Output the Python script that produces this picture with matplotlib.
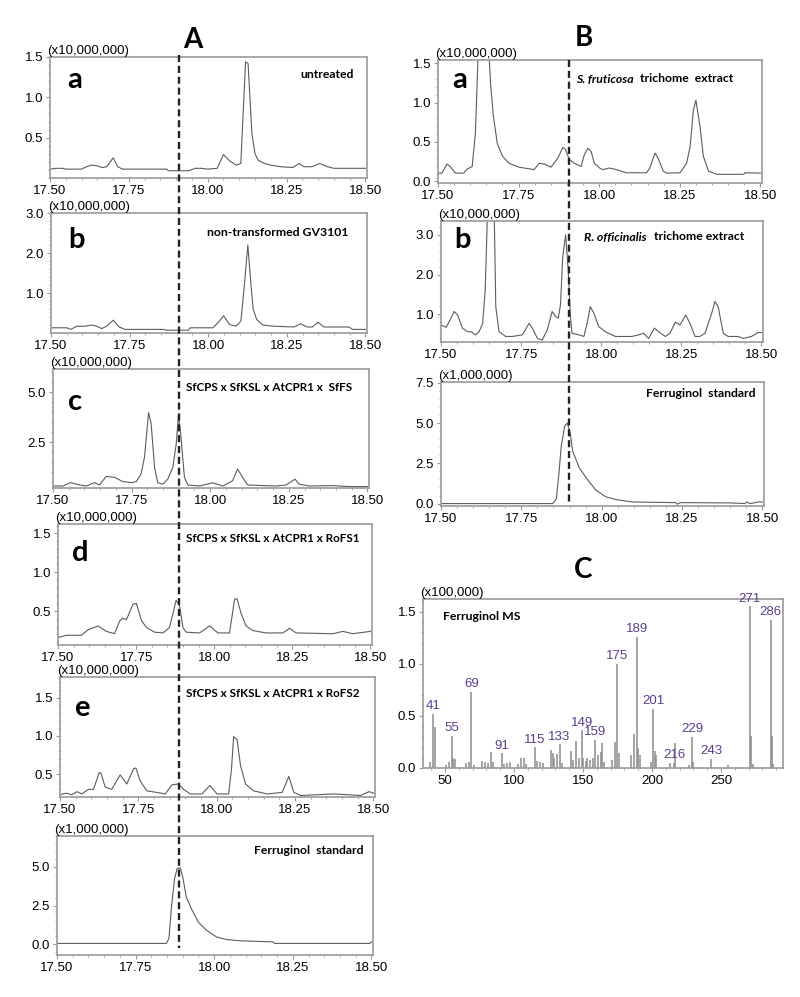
import matplotlib
matplotlib.use("Agg")
import matplotlib.pyplot as plt
from matplotlib.lines import Line2D
from matplotlib.ticker import AutoMinorLocator, FormatStrFormatter

plt.rcParams['font.family'] = ['Liberation Sans', 'DejaVu Sans']

# ---- chromatogram traces (retention time in min, intensity in axis units) ----
aa_t = [17.50, 17.52, 17.54, 17.55, 17.60, 17.61, 17.63, 17.65, 17.665, 17.68, 17.70, 17.715,
        17.73, 17.87, 17.875, 17.94, 17.96, 17.98, 18.00, 18.03, 18.05, 18.07, 18.09, 18.105,
        18.12, 18.128, 18.14, 18.15, 18.16, 18.18, 18.20, 18.23, 18.27, 18.29, 18.305, 18.33,
        18.355, 18.38, 18.40, 18.50]
aa_y = [0.11, 0.12, 0.12, 0.11, 0.11, 0.13, 0.16, 0.15, 0.13, 0.14, 0.25, 0.14,
        0.11, 0.11, 0.09, 0.09, 0.12, 0.12, 0.11, 0.12, 0.29, 0.21, 0.16, 0.18,
        1.44, 1.42, 0.55, 0.30, 0.22, 0.18, 0.16, 0.14, 0.13, 0.18, 0.14, 0.14,
        0.18, 0.14, 0.12, 0.12]

ab_t = [17.50, 17.55, 17.563, 17.582, 17.609, 17.63, 17.646, 17.661, 17.677, 17.698, 17.717,
        17.735, 17.857, 17.867, 17.936, 17.943, 18.015, 18.036, 18.049, 18.068, 18.089, 18.104,
        18.115, 18.126, 18.136, 18.143, 18.154, 18.173, 18.205, 18.273, 18.294, 18.315, 18.331,
        18.349, 18.368, 18.447, 18.46, 18.50]
ab_y = [0.13, 0.13, 0.09, 0.17, 0.17, 0.20, 0.17, 0.11, 0.17, 0.32, 0.15,
        0.09, 0.09, 0.07, 0.07, 0.13, 0.13, 0.30, 0.43, 0.21, 0.17, 0.30,
        1.20, 2.20, 1.20, 0.60, 0.34, 0.20, 0.17, 0.15, 0.23, 0.15, 0.15,
        0.27, 0.15, 0.15, 0.09, 0.09]

ac_t = [17.50, 17.532, 17.555, 17.585, 17.606, 17.632, 17.648, 17.669, 17.696, 17.722, 17.749,
        17.765, 17.78, 17.791, 17.804, 17.812, 17.823, 17.833, 17.849, 17.865, 17.881, 17.892,
        17.899, 17.907, 17.918, 17.929, 17.966, 18.008, 18.04, 18.071, 18.087, 18.103, 18.119,
        18.209, 18.241, 18.27, 18.283, 18.315, 18.389, 18.442, 18.50]
ac_y = [0.30, 0.30, 0.47, 0.35, 0.30, 0.47, 0.35, 0.78, 0.73, 0.52, 0.47,
        0.52, 0.90, 1.74, 3.97, 3.43, 1.23, 0.47, 0.39, 0.64, 1.23, 2.42,
        3.85, 2.75, 0.73, 0.35, 0.30, 0.46, 0.30, 0.56, 1.15, 0.73, 0.35,
        0.30, 0.35, 0.64, 0.39, 0.30, 0.32, 0.27, 0.27]

ad_t = [17.50, 17.527, 17.575, 17.596, 17.628, 17.655, 17.681, 17.697, 17.706, 17.719, 17.74,
        17.751, 17.767, 17.783, 17.809, 17.836, 17.857, 17.878, 17.889, 17.90, 17.91, 17.953,
        17.985, 18.012, 18.049, 18.065, 18.073, 18.086, 18.102, 18.124, 18.166, 18.22, 18.241,
        18.262, 18.38, 18.412, 18.443, 18.50]
ad_y = [0.16, 0.19, 0.19, 0.26, 0.31, 0.24, 0.21, 0.37, 0.41, 0.39, 0.59,
        0.60, 0.38, 0.29, 0.23, 0.22, 0.29, 0.64, 0.57, 0.29, 0.23, 0.22,
        0.31, 0.22, 0.22, 0.65, 0.66, 0.47, 0.31, 0.25, 0.22, 0.22, 0.28,
        0.22, 0.21, 0.24, 0.21, 0.24]

ae_t = [17.50, 17.521, 17.537, 17.555, 17.569, 17.591, 17.607, 17.625, 17.631, 17.644, 17.665,
        17.692, 17.713, 17.735, 17.742, 17.756, 17.777, 17.809, 17.836, 17.857, 17.878, 17.894,
        17.916, 17.953, 17.978, 18.001, 18.038, 18.047, 18.054, 18.065, 18.076, 18.092, 18.118,
        18.161, 18.209, 18.23, 18.246, 18.268, 18.374, 18.459, 18.486, 18.50]
ae_y = [0.23, 0.25, 0.23, 0.27, 0.24, 0.30, 0.30, 0.52, 0.51, 0.33, 0.30,
        0.49, 0.37, 0.57, 0.58, 0.41, 0.28, 0.26, 0.24, 0.36, 0.37, 0.30,
        0.24, 0.24, 0.35, 0.24, 0.24, 0.56, 0.99, 0.95, 0.61, 0.37, 0.28,
        0.24, 0.26, 0.47, 0.26, 0.22, 0.24, 0.22, 0.27, 0.25]

af_t = [17.50, 17.848, 17.856, 17.864, 17.874, 17.882, 17.892, 17.901, 17.911, 17.927, 17.949,
        17.975, 18.007, 18.039, 18.081, 18.187, 18.192, 18.495, 18.50]
af_y = [0.05, 0.05, 0.37, 2.41, 4.25, 4.89, 4.94, 4.25, 3.06, 2.31, 1.44,
        0.91, 0.47, 0.30, 0.22, 0.15, 0.05, 0.05, 0.15]

ba_t = [17.50, 17.512, 17.528, 17.538, 17.554, 17.58, 17.59, 17.606, 17.616, 17.626, 17.64,
        17.656, 17.663, 17.672, 17.684, 17.70, 17.72, 17.752, 17.783, 17.798, 17.814, 17.83,
        17.85, 17.871, 17.887, 17.895, 17.907, 17.923, 17.944, 17.954, 17.965, 17.975, 17.985,
        18.001, 18.011, 18.032, 18.053, 18.084, 18.147, 18.157, 18.173, 18.183, 18.199, 18.209,
        18.251, 18.271, 18.282, 18.292, 18.30, 18.313, 18.323, 18.339, 18.365, 18.448, 18.453,
        18.50]
ba_y = [0.105, 0.105, 0.22, 0.19, 0.105, 0.105, 0.155, 0.19, 0.61, 1.80, 2.30,
        1.80, 1.24, 0.82, 0.48, 0.32, 0.23, 0.18, 0.16, 0.15, 0.23, 0.22,
        0.18, 0.29, 0.43, 0.41, 0.28, 0.23, 0.19, 0.34, 0.42, 0.38, 0.23,
        0.17, 0.15, 0.17, 0.15, 0.11, 0.11, 0.17, 0.36, 0.29, 0.13, 0.105,
        0.11, 0.23, 0.44, 0.90, 1.03, 0.69, 0.32, 0.13, 0.09, 0.09, 0.11,
        0.105]

bb_t = [17.50, 17.516, 17.526, 17.541, 17.552, 17.567, 17.583, 17.593, 17.609, 17.619, 17.63,
        17.638, 17.646, 17.656, 17.666, 17.671, 17.681, 17.702, 17.723, 17.754, 17.775, 17.785,
        17.801, 17.816, 17.832, 17.847, 17.858, 17.866, 17.873, 17.88, 17.889, 17.897, 17.904,
        17.909, 17.93, 17.946, 17.956, 17.966, 17.977, 17.992, 18.013, 18.044, 18.096, 18.117,
        18.132, 18.148, 18.166, 18.179, 18.20, 18.215, 18.231, 18.246, 18.264, 18.277, 18.293,
        18.308, 18.324, 18.345, 18.355, 18.365, 18.381, 18.396, 18.427, 18.443, 18.469, 18.49,
        18.50]
bb_y = [0.73, 0.67, 0.82, 1.07, 0.98, 0.65, 0.56, 0.56, 0.48, 0.56, 0.77,
        1.61, 3.80, 4.50, 3.60, 1.19, 0.56, 0.44, 0.44, 0.48, 0.77, 0.65,
        0.39, 0.35, 0.61, 1.07, 0.94, 0.90, 1.24, 2.45, 3.00, 2.12, 0.94,
        0.52, 0.48, 0.44, 0.77, 1.19, 1.03, 0.69, 0.56, 0.44, 0.44, 0.48,
        0.52, 0.39, 0.65, 0.56, 0.44, 0.52, 0.80, 0.73, 0.98, 0.77, 0.44,
        0.44, 0.52, 1.03, 1.32, 1.19, 0.52, 0.44, 0.44, 0.39, 0.44, 0.54,
        0.54]

bc_t = [17.50, 17.848, 17.859, 17.867, 17.874, 17.885, 17.893, 17.902, 17.91, 17.931, 17.957,
        17.982, 18.013, 18.044, 18.096, 18.23, 18.235, 18.245, 18.405, 18.446, 18.451, 18.462,
        18.488, 18.50]
bc_y = [0.0, 0.0, 0.31, 1.88, 3.54, 4.83, 5.00, 4.38, 3.23, 2.19, 1.46,
        0.83, 0.42, 0.25, 0.10, 0.06, -0.04, 0.06, 0.04, 0.0, 0.10, 0.0,
        0.10, 0.10]

# ---- Ferruginol mass spectrum (m/z, intensity x100,000) ----
ms_mz = [39, 41, 43, 51, 53, 55, 56, 57, 65, 67, 69, 71, 77, 79, 81, 83, 85, 91, 93, 95, 97,
         103, 105, 107, 109, 115, 117, 119, 121, 127, 128, 129, 131, 133, 135, 141, 143, 145,
         147, 149, 150, 152, 153, 155, 157, 159, 161, 163, 164, 165, 171, 173, 175, 176, 185,
         187, 189, 190, 191, 199, 201, 202, 203, 213, 216, 217, 227, 229, 230, 243, 255,
         271, 272, 273, 286, 287, 288]
ms_int = [0.06, 0.52, 0.39, 0.03, 0.06, 0.31, 0.10, 0.09, 0.05, 0.06, 0.73, 0.03, 0.07, 0.06,
          0.05, 0.15, 0.06, 0.14, 0.04, 0.05, 0.06, 0.04, 0.10, 0.10, 0.04, 0.20, 0.07, 0.06,
          0.05, 0.17, 0.14, 0.10, 0.13, 0.23, 0.05, 0.16, 0.08, 0.26, 0.10, 0.36, 0.10, 0.07,
          0.10, 0.08, 0.10, 0.27, 0.12, 0.15, 0.24, 0.06, 0.08, 0.25, 1.00, 0.14, 0.12, 0.33,
          1.26, 0.19, 0.12, 0.06, 0.57, 0.16, 0.12, 0.05, 0.05, 0.24, 0.03, 0.30, 0.06, 0.09,
          0.03, 1.55, 0.31, 0.04, 1.42, 0.31, 0.04]
ms_labels = [41, 55, 69, 91, 115, 133, 149, 159, 175, 189, 201, 216, 229, 243, 271, 286]

W, H = 800, 997
fig = plt.figure(figsize=(8, 9.97), dpi=100)
GRAY = '#9a9a9a'
LINE = '#5c5c5c'
BOLD = ['Lato', 'DejaVu Sans']


def px_axes(l, r, t, b):
    return fig.add_axes([l / W, 1 - b / H, (r - l) / W, (b - t) / H])


def style(ax, yt, ylim, scale, xfmt='%.2f'):
    for s in ax.spines.values():
        s.set_color(GRAY)
        s.set_linewidth(1.2)
    ax.set_ylim(*ylim)
    ax.set_yticks(yt)
    ax.yaxis.set_major_formatter(FormatStrFormatter('%.1f'))
    ax.xaxis.set_major_formatter(FormatStrFormatter(xfmt))
    ax.xaxis.set_minor_locator(AutoMinorLocator(5))
    ax.yaxis.set_minor_locator(AutoMinorLocator(5))
    ax.tick_params(which='major', length=3, width=0.8, color=GRAY, labelsize=9.5, pad=2)
    ax.tick_params(which='minor', length=1.5, width=0.6, color=GRAY)
    ax.text(-0.008, 1.0, scale, transform=ax.transAxes, ha='left', va='bottom', fontsize=9.5)


def chrom(box, t, y, yt, ylim, scale):
    ax = px_axes(*box)
    ax.plot(t, y, color=LINE, lw=0.8)
    ax.set_xlim(17.5, 18.505)
    ax.set_xticks([17.5, 17.75, 18.0, 18.25, 18.5])
    style(ax, yt, ylim, scale)
    return ax


def ftext(x, y, s, ha='left', size=8.8, style_='normal', weight='bold'):
    fig.text(x / W, 1 - y / H, s, ha=ha, va='center', fontsize=size, family=BOLD,
             fontweight=weight, fontstyle=style_)


# panel A
chrom((50, 367, 57, 178), aa_t, aa_y, [0.5, 1.0, 1.5], (0.0, 1.5), '(x10,000,000)')
chrom((51, 367, 213, 333), ab_t, ab_y, [1.0, 2.0, 3.0], (0.0, 3.0), '(x10,000,000)')
chrom((53, 369, 369, 488), ac_t, ac_y, [2.5, 5.0], (0.2, 6.15), '(x10,000,000)')
chrom((58, 372, 524, 645), ad_t, ad_y, [0.5, 1.0, 1.5], (0.065, 1.62), '(x10,000,000)')
chrom((60, 375, 677, 797), ae_t, ae_y, [0.5, 1.0, 1.5], (0.2, 1.77), '(x10,000,000)')
chrom((57, 373, 836, 955), af_t, af_y, [0.0, 2.5, 5.0], (-0.7, 7.0), '(x1,000,000)')

# panel B
chrom((438, 762, 60, 183), ba_t, ba_y, [0.0, 0.5, 1.0, 1.5], (-0.02, 1.54), '(x10,000,000)')
chrom((441, 763, 221, 342), bb_t, bb_y, [1.0, 2.0, 3.0], (0.3, 3.35), '(x10,000,000)')
chrom((441, 764, 382, 506), bc_t, bc_y, [0.0, 2.5, 5.0, 7.5], (-0.15, 7.55), '(x1,000,000)')

# panel C: mass spectrum
axc = px_axes(423, 783, 599, 768)
axc.vlines(ms_mz, 0, ms_int, color='#8c8c8c', lw=1.1)
axc.set_xlim(34, 295)
axc.set_xticks([50, 100, 150, 200, 250])
style(axc, [0.0, 0.5, 1.0, 1.5], (0, 1.62), '(x100,000)', xfmt='%d')
for mz in ms_labels:
    v = ms_int[ms_mz.index(mz)]
    axc.annotate(str(mz), (mz, v), xytext=(0, 1), textcoords='offset points',
                 ha='center', va='bottom', fontsize=9.5, color='#5b3f8c')

# dashed retention-time markers
fig.add_artist(Line2D([179 / W] * 2, [1 - 55 / H, 1 - 948 / H], transform=fig.transFigure,
                      color='#222222', lw=1.7, ls=(0, (3, 1.6))))
fig.add_artist(Line2D([569 / W] * 2, [1 - 60 / H, 1 - 505 / H], transform=fig.transFigure,
                      color='#222222', lw=1.7, ls=(0, (3, 1.6))))

# panel headers
ftext(193, 40, 'A', ha='center', size=20)
ftext(584, 38, 'B', ha='center', size=20)
ftext(583, 570, 'C', ha='center', size=20)

# sub-panel letters
for x, y, s in [(75, 80, 'a'), (77, 240, 'b'), (75, 402, 'c'), (80, 553, 'd'), (82, 708, 'e'),
                (460, 80, 'a'), (463, 240, 'b')]:
    ftext(x, y, s, ha='center', size=21)

# sample labels
ftext(354, 74, 'untreated', ha='right')
ftext(348, 232, 'non-transformed GV3101', ha='right')
ftext(352, 387, 'SfCPS x SfKSL x AtCPR1 x  SfFS', ha='right', size=8.4)
ftext(359, 539, 'SfCPS x SfKSL x AtCPR1 x RoFS1', ha='right', size=8.4)
ftext(359, 693, 'SfCPS x SfKSL x AtCPR1 x RoFS2', ha='right', size=8.4)
ftext(363, 850, 'Ferruginol  standard', ha='right')
ftext(756, 393, 'Ferruginol  standard', ha='right')
ftext(443, 616, 'Ferruginol MS')
ftext(634, 79, 'S. fruticosa', ha='right', style_='italic')
ftext(640, 79, 'trichome  extract')
ftext(647, 237, 'R. officinalis', ha='right', style_='italic')
ftext(654, 237, 'trichome extract')

fig.savefig('out.png', dpi=100)
